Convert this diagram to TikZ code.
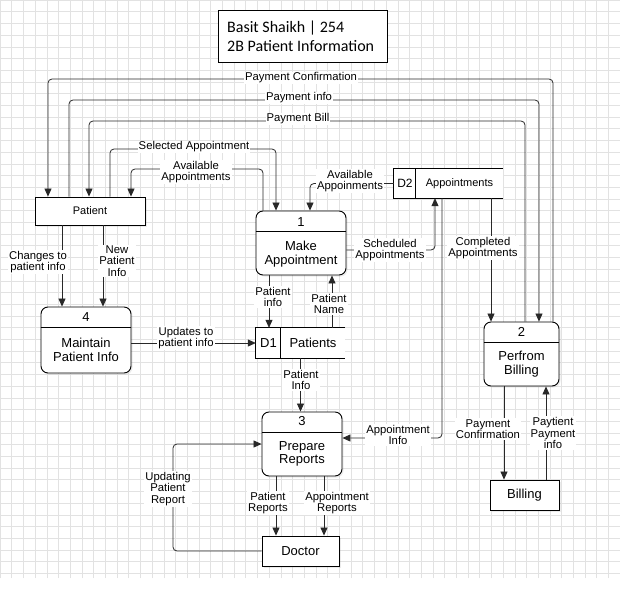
\documentclass[tikz,border=0pt]{standalone}
\usepackage{fontspec}
\setmainfont{Liberation Sans}
\newfontfamily\titlefont{Carlito}
\usepackage{tikz}
\usetikzlibrary{arrows.meta, calc, shadows}
\definecolor{gridgray}{RGB}{226,226,226}
\definecolor{linegray}{RGB}{40,40,40}

\begin{document}
\begin{tikzpicture}[x=1pt, y=-1pt, >={Triangle[length=8pt, width=7pt]},
    flow/.style={draw=linegray, line width=0.8pt, rounded corners=4pt},
    lbl/.style={fill=white, inner sep=1pt, align=center, font=\fontsize{11.3}{11.5}\selectfont},
    boxtext/.style={inner sep=0pt, align=center, font=\fontsize{13}{13.5}\selectfont},
    proc/.style={draw, line width=0.9pt, rounded corners=7pt, fill=white, inner sep=0pt,
        drop shadow={opacity=0.15, shadow xshift=1.5pt, shadow yshift=-1.5pt}},
    ext/.style={draw, line width=0.9pt, fill=white, inner sep=0pt,
        drop shadow={opacity=0.15, shadow xshift=1.5pt, shadow yshift=-1.5pt}},
    store/.style={fill=white, inner sep=0pt}]
    \useasboundingbox (0,0) rectangle (625,592);
    \fill[white] (0,0) rectangle (625,592);
    \draw[gridgray, line width=0.6pt] (0,0) grid[step=11.7pt] (620,578);

    % title
    \node[draw, line width=0.9pt, fill=white, minimum width=169pt, minimum height=52pt] (title) at (302.5,36) {};
    \node[anchor=west, inner sep=0pt, align=left, font=\titlefont\fontsize{16}{19}\selectfont] (titletext) at (227,36)
        {Basit Shaikh | 254\\2B Patient Information};

    % external entities
    \node[ext, minimum width=110pt, minimum height=28pt, font=\fontsize{11}{12}\selectfont] (patient) at (90,211) {Patient};
    \node[ext, minimum width=69pt, minimum height=30pt, font=\fontsize{13}{14}\selectfont] (billing) at (524.5,495) {Billing};
    \node[ext, minimum width=77pt, minimum height=30pt, font=\fontsize{13}{14}\selectfont] (doctor) at (300.5,551) {Doctor};

    % processes
    \node[proc, minimum width=90pt, minimum height=64pt] (p1) at (301,243) {};
    \draw[line width=0.9pt] ([yshift=-21pt]p1.north west) -- ([yshift=-21pt]p1.north east);
    \node[boxtext] (p1num) at (301,222) {1};
    \node[boxtext] (p1name) at (301,254) {Make\\Appointment};

    \node[proc, minimum width=75pt, minimum height=64pt] (p2) at (521.5,354) {};
    \draw[line width=0.9pt] ([yshift=-21pt]p2.north west) -- ([yshift=-21pt]p2.north east);
    \node[boxtext] (p2num) at (521.5,332) {2};
    \node[boxtext] (p2name) at (521.5,364) {Perfrom\\Billing};

    \node[proc, minimum width=80pt, minimum height=64pt] (p3) at (302,444) {};
    \draw[line width=0.9pt] ([yshift=-21pt]p3.north west) -- ([yshift=-21pt]p3.north east);
    \node[boxtext] (p3num) at (302,421) {3};
    \node[boxtext] (p3name) at (302,454) {Prepare\\Reports};

    \node[proc, minimum width=90pt, minimum height=66pt] (p4) at (86,340) {};
    \draw[line width=0.9pt] ([yshift=-21pt]p4.north west) -- ([yshift=-21pt]p4.north east);
    \node[boxtext] (p4num) at (86,317) {4};
    \node[boxtext] (p4name) at (86,350) {Maintain\\Patient Info};

    % data stores
    \node[store, minimum width=89pt, minimum height=30pt] (d1) at (300.5,343) {};
    \draw[line width=0.9pt] (d1.north east) -- (d1.north west) -- (d1.south west) -- (d1.south east);
    \draw[line width=0.9pt] ([xshift=25pt]d1.north west) -- ([xshift=25pt]d1.south west);
    \node[boxtext] (d1id) at (268.5,343) {D1};
    \node[boxtext] (d1name) at (313,343) {Patients};

    \node[store, minimum width=109pt, minimum height=29pt] (d2) at (448.5,183.5) {};
    \draw[line width=0.9pt] (d2.north east) -- (d2.north west) -- (d2.south west) -- (d2.south east);
    \draw[line width=0.9pt] ([xshift=22pt]d2.north west) -- ([xshift=22pt]d2.south west);
    \node[boxtext, font=\fontsize{12}{13}\selectfont] (d2id) at (405,183.5) {D2};
    \node[boxtext, font=\fontsize{11}{12}\selectfont] (d2name) at (459.5,183.5) {Appointments};

    % flows
    \draw[flow, ->] ([xshift=31.5pt]p2.north) |- (48,79) -- ([xshift=-42pt]patient.north);
    \draw[flow, ->] ([xshift=-21pt]patient.north) |- (539,100) -- ([xshift=17.5pt]p2.north);
    \draw[flow, ->] ([xshift=3.5pt]p2.north) |- (89,121) -- ([xshift=-1pt]patient.north);
    \draw[flow, ->] ([xshift=20pt]patient.north) |- (276,149) -- ([xshift=-25pt]p1.north);
    \draw[flow, ->] ([xshift=-38pt]p1.north) |- (131,169) -- ([xshift=41pt]patient.north);
    \draw[flow, ->] (d2.west) -| ([xshift=9pt]p1.north);
    \draw[flow, ->] ([yshift=-7pt]p1.east) -| ([xshift=-13.5pt]d2.south);
    \draw[flow, ->] ([xshift=42.5pt]d2.south) -- ([xshift=-30.5pt]p2.north);
    \draw[flow, ->] ([xshift=-6.5pt]d2.south) |- ([yshift=6pt]p3.east);
    \draw[flow, ->] ([xshift=-32pt]p1.south) -- ([xshift=-31.5pt]d1.north);
    \draw[flow, ->] ([xshift=31.5pt]d1.north) -- ([xshift=31pt]p1.south);
    \draw[flow, ->] (d1.south) -- (d1.south |- p3.north);
    \draw[flow, ->] (p4.east |- d1.west) -- (d1.west);
    \draw[flow, ->] ([xshift=-28pt]patient.south) -- ([xshift=-24pt]p4.north);
    \draw[flow, ->] ([xshift=13pt]patient.south) -- ([xshift=17pt]p4.north);
    \draw[flow, ->] ([xshift=-17.5pt]p2.south) -- ([xshift=-20.5pt]billing.north);
    \draw[flow, ->] ([xshift=21.5pt]billing.north) -- ([xshift=24.5pt]p2.south);
    \draw[flow, ->] ([xshift=-26pt]p3.south) -- ([xshift=-24.5pt]doctor.north);
    \draw[flow, ->] ([xshift=22pt]p3.south) -- ([xshift=23.5pt]doctor.north);
    \draw[flow, ->] (doctor.west) -| (173,444) -- (p3.west);

    % flow labels
    \node[lbl] (lpayconf) at (301,78) {Payment Confirmation};
    \node[lbl] (lpayinfo) at (299,98) {Payment info};
    \node[lbl] (lpaybill) at (298,119) {Payment Bill};
    \node[lbl] (lselapp) at (194,147) {Selected Appointment};
    \node[lbl] (lavail) at (196,172) {Available\\Appointments};
    \node[lbl] (lavailtwo) at (350,181) {Available\\Appoinments};
    \node[lbl] (lsched) at (390,250) {Scheduled\\Appointments};
    \node[lbl] (lcompl) at (483,248) {Completed\\Appointments};
    \node[lbl] (lappinfo) at (398,435) {Appointment\\Info};
    \node[lbl] (lpatinfo) at (273,297) {Patient\\info};
    \node[lbl] (lpatname) at (329,304) {Patient\\Name};
    \node[lbl] (lpatinfotwo) at (301,380) {Patient\\Info};
    \node[lbl] (lupdates) at (186,338) {Updates to\\patient info};
    \node[lbl] (lchanges) at (38,262) {Changes to\\patient info};
    \node[lbl] (lnewpat) at (117,261) {New\\Patient\\Info};
    \node[lbl] (lpayconftwo) at (488,429) {Payment\\Confirmation};
    \node[lbl] (lpaytient) at (553,433) {Paytient\\Payment\\info};
    \node[lbl] (lpatrep) at (268,503) {Patient\\Reports};
    \node[lbl] (lapprep) at (337,503) {Appointment\\Reports};
    \node[lbl] (lupdating) at (168,489) {Updating\\Patient\\Report};
\end{tikzpicture}
\end{document}
